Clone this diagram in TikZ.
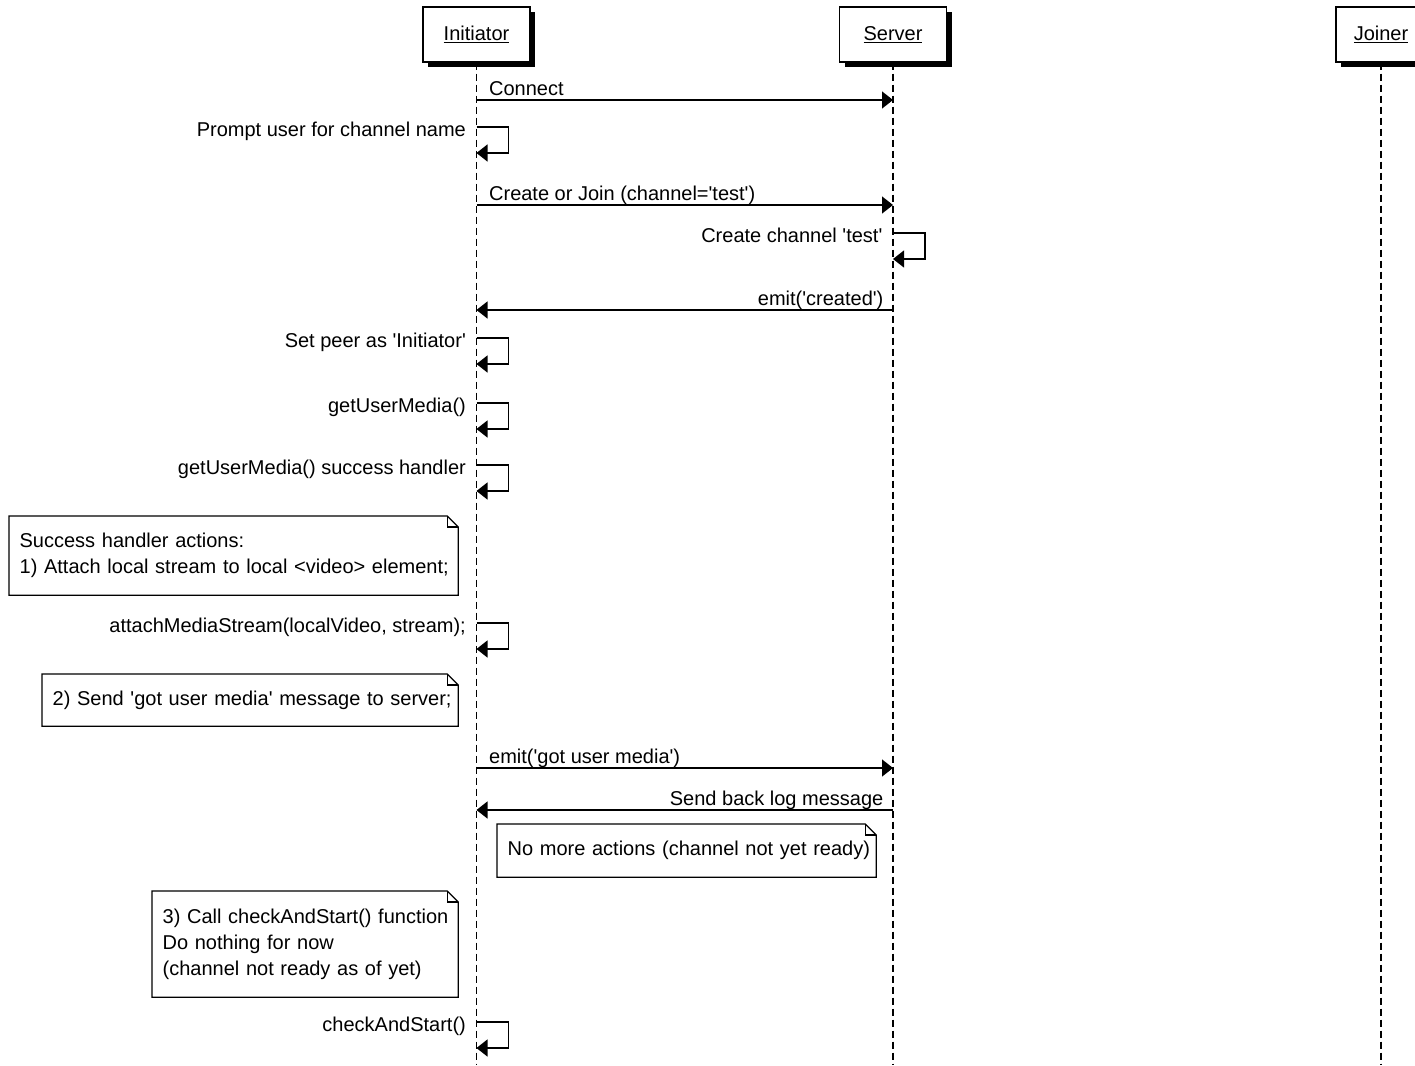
\documentclass[tikz,border=0pt]{standalone}
\usepackage{fontspec}
\setmainfont[Ligatures=TeXOff]{Liberation Sans}
\usetikzlibrary{arrows.meta,shadows}
\tikzset{
  actor/.style={draw,fill=white,minimum width=107pt,minimum height=55pt,inner sep=0pt,
    drop shadow={shadow xshift=5pt,shadow yshift=-5pt,fill=black,opacity=1}},
  lifeline/.style={dash pattern=on 7pt off 4pt},
  msg/.style={-{Triangle[length=11pt,width=17pt]}},
  note/.style={anchor=north west,inner xsep=10pt,inner ysep=0pt,align=left},
  lbl/.style={inner sep=0pt}
}
\begin{document}
\begin{tikzpicture}[x=1pt,y=-1pt,line width=1.3pt,font=\fontsize{20}{26}\selectfont]
  \useasboundingbox (0,0) rectangle (1415,1065);
  \node[actor] (ini) at (476.5,34.5) {\underline{Initiator}};
  \node[actor] (srv) at (893,34.5) {\underline{Server}};
  \node[actor,minimum width=90pt] (joi) at (1381,34.5) {\underline{Joiner}};
  \foreach \a in {ini,srv,joi}
    \draw[lifeline] (\a.south) -- (\a |- 0,1065);
  \draw[msg] (ini |- 0,100) -- (srv |- 0,100) node[lbl,pos=0,anchor=base west,xshift=12pt,yshift=5pt] {Connect};
  \draw[msg] (ini |- 0,205) -- (srv |- 0,205) node[lbl,pos=0,anchor=base west,xshift=12pt,yshift=5pt] {Create or Join (channel='test')};
  \draw[msg] (srv |- 0,310) -- (ini |- 0,310) node[lbl,pos=0,anchor=base east,xshift=-9pt,yshift=5pt] {emit('created')};
  \draw[msg] (ini |- 0,768) -- (srv |- 0,768) node[lbl,pos=0,anchor=base west,xshift=12pt,yshift=5pt] {emit('got user media')};
  \draw[msg] (srv |- 0,810) -- (ini |- 0,810) node[lbl,pos=0,anchor=base east,xshift=-9pt,yshift=5pt] {Send back log message};
  \foreach \a/\y/\t in {ini/127/{Prompt user for channel name},srv/233/{Create channel 'test'},
      ini/338/{Set peer as 'Initiator'},ini/403/{getUserMedia()},ini/465/{getUserMedia() success handler},
      ini/623/{attachMediaStream(localVideo, stream);},ini/1022/{checkAndStart()}}
    \draw[msg] (\a |- 0,\y) node[lbl,anchor=base east,xshift=-10pt,yshift=-9pt] {\t}
      -- ++(32,0) -- ++(0,26) -- ++(-32,0);
  \node[note,text width=428pt,minimum height=78pt] (na) at (9,516)
    {Success handler actions:\\\mbox{1) Attach local stream to local <video> element;}};
  \node[note,text width=395pt,minimum height=51pt] (nb) at (42,674)
    {\mbox{2) Send 'got user media' message to server;}};
  \node[note,text width=358pt,minimum height=52pt] (nc) at (497,824)
    {\mbox{No more actions (channel not yet ready)}};
  \node[note,text width=285pt,minimum height=105pt] (nd) at (152,891)
    {\mbox{3) Call checkAndStart() function}\\Do nothing for now\\(channel not ready as of yet)};
  \foreach \n in {na,nb,nc,nd} {
    \draw (\n.north west) -- ([xshift=-11pt]\n.north east) -- ([yshift=-11pt]\n.north east)
      -- (\n.south east) -- (\n.south west) -- cycle;
    \draw ([xshift=-11pt]\n.north east) -- ([xshift=-11pt,yshift=-11pt]\n.north east)
      -- ([yshift=-11pt]\n.north east);
  }
\end{tikzpicture}
\end{document}
